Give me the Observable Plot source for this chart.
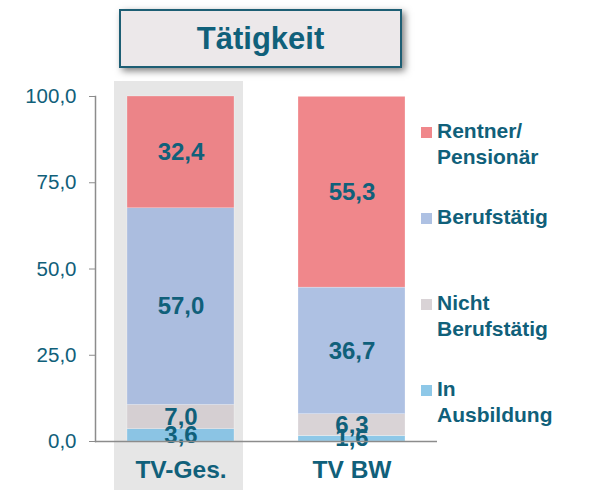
<!DOCTYPE html>
<html>
<head>
<meta charset="utf-8">
<script src="https://cdn.jsdelivr.net/npm/d3@7"></script>
<script src="https://cdn.jsdelivr.net/npm/@observablehq/plot@0.6"></script>
<style>
  html, body { margin: 0; padding: 0; background: #fff; }
  #wrap { position: relative; width: 590px; height: 490px; font-family: "Liberation Sans", Arial, sans-serif; }
  #title {
    position: absolute; left: 119px; top: 9px; width: 279px; height: 55px;
    background: #ece8ea; border: 2px solid #1d5e74;
    box-shadow: 3px 3px 7px rgba(0,0,0,0.5);
    display: flex; align-items: center; justify-content: center;
    font-weight: bold; font-size: 31px; color: #10607a;
  }
  .leg { position: absolute; left: 421px; font-weight: bold; font-size: 21px; line-height: 26px; color: #10607a; }
  .leg .sw { position: absolute; left: 0; width: 11px; height: 11px; }
  .leg .tx { position: absolute; left: 16px; white-space: nowrap; }
  #chart { position: absolute; left: 0; top: 0; }
</style>
</head>
<body>
<div id="wrap">
  <div id="chart"></div>
  <div id="title">Tätigkeit</div>
  <div id="legend"></div>
</div>
<script>
const categories = ["TV-Ges.", "TV BW"];
const groups = ["In Ausbildung", "Nicht Berufstätig", "Berufstätig", "Rentner/Pensionär"];
const legendLines = [["In", "Ausbildung"], ["Nicht", "Berufstätig"], ["Berufstätig"], ["Rentner/", "Pensionär"]];
const tvGes = [3.6, 7.0, 57.0, 32.4];
const tvBW = [1.6, 6.3, 36.7, 55.3];
const yTicks = [0, 25, 50, 75, 100];
const colors = ["#8ec8e8", "#d9d3d6", "#aec1e3", "#f0878b"];
const highlighted = ["TV-Ges."];

const values = [tvGes, tvBW];
const data = [];
categories.forEach((c, i) => groups.forEach((g, j) => data.push({cat: c, group: g, value: values[i][j]})));

const fmt = v => v.toFixed(1).replace(".", ",");
const textColor = "#10607a";

const chart = Plot.plot({
  width: 590,
  height: 490,
  marginLeft: 95,
  marginRight: 153,
  marginTop: 96,
  marginBottom: 49,
  style: {fontFamily: "'Liberation Sans', Arial, sans-serif", background: "transparent", overflow: "visible"},
  x: {domain: categories, paddingInner: 0.374, paddingOuter: 0.187, label: null},
  y: {domain: [0, 100], label: null},
  color: {domain: groups, range: colors},
  marks: [
    Plot.barY(highlighted, {x: d => d, y1: 0, y2: 100, fill: "#e6e6e6",
      insetTop: -15, insetBottom: -49, insetLeft: -13, insetRight: -9}),
    Plot.barY(data, Plot.stackY({x: "cat", y: "value", fill: "group", order: null,
      stroke: "#fff", strokeWidth: 0.5, strokeOpacity: 0.5})),
    Plot.barY(data.filter(d => highlighted.includes(d.cat)), Plot.stackY({x: "cat", y: "value", order: null,
      fill: "#000", fillOpacity: 0.015})),
    Plot.text(data, Plot.stackY({x: "cat", y: "value", order: null, text: d => fmt(d.value),
      fill: textColor, fontSize: 24, fontWeight: "bold"})),
    Plot.frame({anchor: "left", stroke: "#8c8c8c", strokeWidth: 1.5}),
    Plot.ruleY([0], {stroke: "#8c8c8c", strokeWidth: 1.5}),
    Plot.axisY({ticks: yTicks, tickFormat: fmt, tickSize: 6, tickPadding: 13, stroke: "#8c8c8c",
      fontSize: 20.5, color: textColor, label: null}),
    Plot.axisX({tickSize: 0, tickPadding: 19, fontSize: 24.5, fontWeight: "bold", color: textColor, label: null})
  ]
});
document.getElementById("chart").appendChild(chart);

// legend (right side), tops chosen so baselines line up with the reference
const legTops = [376, 290, 204, 118];
const legend = document.getElementById("legend");
groups.forEach((g, j) => {
  const item = document.createElement("div");
  item.className = "leg";
  item.style.top = legTops[j] + "px";
  const sw = document.createElement("div");
  sw.className = "sw";
  sw.style.background = colors[j];
  sw.style.top = "9px";
  const tx = document.createElement("div");
  tx.className = "tx";
  tx.innerHTML = legendLines[j].join("<br>");
  item.appendChild(sw);
  item.appendChild(tx);
  legend.appendChild(item);
});
</script>
</body>
</html>
